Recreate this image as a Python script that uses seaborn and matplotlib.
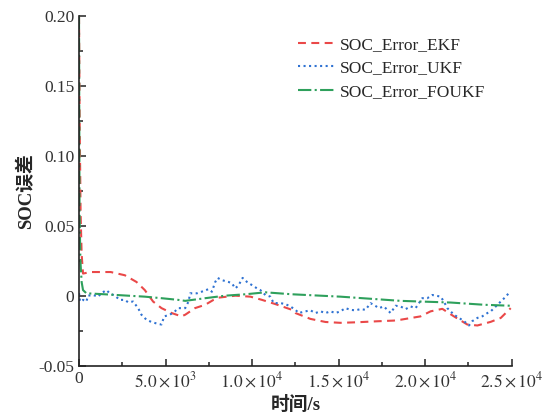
import matplotlib
matplotlib.use("Agg")
import matplotlib.pyplot as plt
from matplotlib.ticker import MultipleLocator, FixedLocator, FixedFormatter
import seaborn as sns

# SOC estimation error over time for three filters
ekf_t = [0, 40, 90, 150, 231, 665, 1830, 2645, 3320, 3800, 4280, 4765, 5350, 5920,
         6135, 6700, 7290, 7770, 8060, 9030, 9900, 10570, 11340, 12300, 12500, 13370,
         14240, 15100, 16070, 17220, 18190, 18575, 19730, 20310, 20990, 21660, 22430,
         23015, 23785, 24365, 24940]
ekf_err = [0.20, 0.12, 0.06, 0.03, 0.016, 0.0171, 0.0171, 0.0148, 0.010, 0.0042, -0.004,
           -0.0087, -0.0122, -0.0146, -0.0134, -0.0087, -0.0063, -0.0028, -0.0012, 0.0002,
           -0.0005, -0.0028, -0.0058, -0.0099, -0.0122, -0.0164, -0.0186, -0.0192, -0.0188,
           -0.0181, -0.0176, -0.017, -0.0146, -0.011, -0.0092, -0.0146, -0.0204, -0.0211,
           -0.0185, -0.0157, -0.0087]

ukf_t = [0, 60, 231, 425, 520, 810, 1100, 1290, 1580, 1775, 2065, 2355, 2645, 2835, 3125,
         3415, 3605, 3895, 4185, 4570, 4765, 4920, 5250, 5540, 5730, 5920, 6135, 6325,
         6425, 6810, 7195, 7485, 7675, 7870, 8005, 8255, 8640, 8835, 9030, 9220, 9450,
         9705, 9995, 10285, 10475, 10765, 11055, 11245, 11630, 11920, 12210, 12500,
         12690, 13080, 13370, 13660, 13950, 14240, 14525, 14815, 15100, 15390, 15680,
         15970, 16260, 16550, 16840, 17030, 17320, 17610, 17900, 18000, 18290, 18575,
         18865, 19155, 19445, 19635, 19830, 20120, 20410, 20700, 20890, 21080, 21275,
         21470, 21660, 21950, 22240, 22530, 22720, 23015, 23305, 23595, 23785, 24075,
         24365, 24655, 24845]
ukf_err = [0.002, -0.004, -0.0028, -0.004, 0.0002, 0.0007, -0.0005, 0.0019, 0.0042, 0.0019,
           0.0002, -0.0028, -0.0028, -0.0045, -0.004, -0.0087, -0.0134, -0.017, -0.0186,
           -0.020, -0.0204, -0.0146, -0.0134, -0.011, -0.0087, -0.0087, -0.0087, -0.004,
           0.0019, 0.0019, 0.0035, 0.0049, 0.003, 0.010, 0.0129, 0.0113, 0.010, 0.009,
           0.0054, 0.0077, 0.0129, 0.010, 0.0077, 0.0054, 0.0042, 0.0007, -0.0005, -0.0051,
           -0.0051, -0.0058, -0.0075, -0.0099, -0.0122, -0.011, -0.0103, -0.0122, -0.011,
           -0.0122, -0.011, -0.0122, -0.011, -0.0087, -0.0099, -0.0103, -0.0094, -0.0099,
           -0.0052, -0.0063, -0.0087, -0.0075, -0.011, -0.0122, -0.007, -0.0075, -0.0094,
           -0.0075, -0.0087, -0.0052, -0.0016, -0.0016, 0.0007, 0.0, -0.0005, -0.004,
           -0.0087, -0.011, -0.0134, -0.0157, -0.018, -0.0211, -0.018, -0.0157, -0.0145,
           -0.0122, -0.011, -0.0075, -0.004, -0.0005, 0.0023]

foukf_t = [0, 30, 80, 150, 231, 425, 1480, 2835, 3800, 4765, 5730, 6135, 7290, 8450,
           9610, 10765, 12300, 15100, 18575, 21470, 23400, 24940]
foukf_err = [0.20, 0.06, 0.025, 0.01, 0.0042, 0.0019, 0.0012, 0.0002, -0.0005, -0.0016,
             -0.0028, -0.0035, -0.0016, 0.0002, 0.0012, 0.0026, 0.0012, -0.0005, -0.0035,
             -0.0047, -0.0063, -0.007]

series_names = ["SOC_Error_EKF", "SOC_Error_UKF", "SOC_Error_FOUKF"]
x_tick_values = [0, 5000, 10000, 15000, 20000, 25000]
x_tick_labels = ["0", r"$5.0\times10^{3}$", r"$1.0\times10^{4}$", r"$1.5\times10^{4}$",
                 r"$2.0\times10^{4}$", r"$2.5\times10^{4}$"]
y_tick_values = [-0.05, 0, 0.05, 0.10, 0.15, 0.20]
y_tick_labels = ["-0.05", "0", "0.05", "0.10", "0.15", "0.20"]

sns.set_style("ticks")
plt.rcParams["font.family"] = ["Liberation Serif", "Noto Sans CJK SC"]
plt.rcParams["mathtext.fontset"] = "stix"

fig = plt.figure(figsize=(5.45, 4.13), dpi=100)
ax = fig.add_axes([0.145, 0.114, 0.794, 0.847])

sns.lineplot(x=ekf_t, y=ekf_err, ax=ax, color="#ea4848", linewidth=1.5,
             label=series_names[0]).lines[-1].set_dashes((3.8, 2.6))
sns.lineplot(x=ukf_t, y=ukf_err, ax=ax, color="#2f72d2", linewidth=1.5,
             label=series_names[1]).lines[-1].set_linestyle(":")
sns.lineplot(x=foukf_t, y=foukf_err, ax=ax, color="#2ea05c", linewidth=1.5,
             label=series_names[2]).lines[-1].set_linestyle("-.")

ax.set_xlim(0, 25000)
ax.set_ylim(-0.05, 0.20)
ax.xaxis.set_major_locator(FixedLocator(x_tick_values))
ax.xaxis.set_major_formatter(FixedFormatter(x_tick_labels))
ax.xaxis.set_minor_locator(MultipleLocator(2500))
ax.yaxis.set_major_locator(FixedLocator(y_tick_values))
ax.yaxis.set_major_formatter(FixedFormatter(y_tick_labels))
ax.yaxis.set_minor_locator(MultipleLocator(0.025))
ax.tick_params(which="both", direction="in", width=1.1, colors="#222222",
               labelcolor="#333333", labelsize=12.5)
ax.tick_params(which="major", length=5)
ax.tick_params(which="minor", length=3)
for side in ("top", "right"):
    ax.spines[side].set_visible(False)
for side in ("left", "bottom"):
    ax.spines[side].set_linewidth(1.2)
    ax.spines[side].set_color("#222222")

ax.set_xlabel("时间/s", fontsize=13.5, fontweight="bold", labelpad=4)
ax.set_ylabel("SOC误差", fontsize=13.5, fontweight="bold", labelpad=2)

leg = ax.legend(loc="upper left", bbox_to_anchor=(0.471, 0.985), frameon=False,
                fontsize=12.5, handlelength=2.1, handletextpad=0.3, labelspacing=0.42)
for h in leg.get_lines():
    h.set_linewidth(1.5)

fig.savefig("out.png", dpi=100)
